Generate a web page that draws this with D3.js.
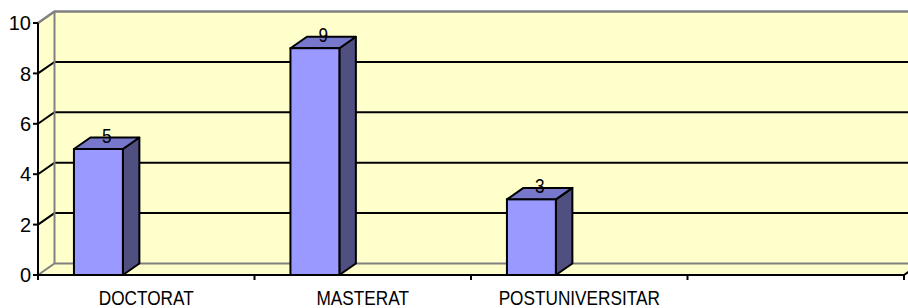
<!DOCTYPE html>
<html>
<head>
<meta charset="utf-8">
<script src="https://cdn.jsdelivr.net/npm/d3@7"></script>
<style>
  html, body { margin: 0; padding: 0; background: #ffffff; }
  svg { display: block; }
  text { font-family: "Liberation Sans", Arial, sans-serif; fill: #000; }
</style>
</head>
<body>
<svg id="chart" width="908" height="308"></svg>
<script>
// ---- data ----
const categories = ["DOCTORAT", "MASTERAT", "POSTUNIVERSITAR", ""];
const values = [5, 9, 3, null];
const yTicks = [0, 2, 4, 6, 8, 10];

(function () {
// ---- layout ----
const left = 38, right = 904, bottomY = 275, topY = 23;
const dx = 16.5, dy = -11.5;   // 3D depth offset

const svg = d3.select("#chart");

const x = d3.scaleBand().domain(categories).range([left, right]).padding(0);
const y = d3.scaleLinear().domain([0, 10]).range([bottomY, topY]);

const wallFill = "#FFFFCC", edge = "#808080";
const frontFill = "#9999FF", topFill = "#7777CC", sideFill = "#4F4F80";

const poly = pts => "M" + pts.map(p => p.join(",")).join("L") + "Z";

// side wall
svg.append("path")
  .attr("d", poly([[left, y(0)], [left + dx, y(0) + dy], [left + dx, y(10) + dy], [left, y(10)]]))
  .attr("fill", wallFill);
// back wall
svg.append("rect")
  .attr("x", left + dx).attr("y", y(10) + dy)
  .attr("width", right - left + 2).attr("height", y(0) - y(10))
  .attr("fill", wallFill);
// floor
svg.append("path")
  .attr("d", poly([[left, y(0)], [right, y(0)], [right + dx, y(0) + dy], [left + dx, y(0) + dy]]))
  .attr("fill", wallFill);

// gridlines
const grid = yTicks.filter(v => v > 0 && v < 10);
svg.append("g").selectAll("path").data(grid).join("path")
  .attr("d", v => `M${left},${y(v)}L${left + dx},${y(v) + dy}L${right + dx + 10},${y(v) + dy}`)
  .attr("fill", "none").attr("stroke", "#000").attr("stroke-width", 2);

// wall edges (gray)
svg.append("path")
  .attr("d", `M${left},${y(10)}L${left + dx},${y(10) + dy}L${right + dx + 10},${y(10) + dy}`)
  .attr("fill", "none").attr("stroke", edge).attr("stroke-width", 2.5);
svg.append("path")
  .attr("d", `M${left + dx},${y(10) + dy}L${left + dx},${y(0) + dy}`)
  .attr("fill", "none").attr("stroke", edge).attr("stroke-width", 2);
svg.append("path")
  .attr("d", `M${left},${y(0)}L${left + dx},${y(0) + dy}L${right + dx + 10},${y(0) + dy}`)
  .attr("fill", "none").attr("stroke", edge).attr("stroke-width", 2);

// bars
const barData = categories.map((c, i) => ({ c, v: values[i] })).filter(d => d.v != null);
const bw = x.bandwidth();
const bx0 = d => x(d.c) + bw * 0.166;
const bx1 = d => x(d.c) + bw * 0.166 + bw * 0.226;

const bars = svg.append("g").selectAll("g").data(barData).join("g");
bars.append("path") // side
  .attr("d", d => poly([[bx1(d), y(d.v)], [bx1(d) + dx, y(d.v) + dy], [bx1(d) + dx, y(0) + dy], [bx1(d), y(0)]]))
  .attr("fill", sideFill).attr("stroke", "#000").attr("stroke-width", 2).attr("stroke-linejoin", "round");
bars.append("path") // top
  .attr("d", d => poly([[bx0(d), y(d.v)], [bx1(d), y(d.v)], [bx1(d) + dx, y(d.v) + dy], [bx0(d) + dx, y(d.v) + dy]]))
  .attr("fill", topFill).attr("stroke", "#000").attr("stroke-width", 2).attr("stroke-linejoin", "round");
bars.append("rect") // front
  .attr("x", bx0).attr("y", d => y(d.v))
  .attr("width", d => bx1(d) - bx0(d)).attr("height", d => y(0) - y(d.v))
  .attr("fill", frontFill).attr("stroke", "#000").attr("stroke-width", 2);

// data labels
bars.append("g")
  .attr("transform", d => `translate(${(bx0(d) + bx1(d) + dx) / 2},${y(d.v) - 6}) scale(0.82,1)`)
  .append("text")
  .attr("text-anchor", "middle").attr("font-size", 21)
  .text(d => d.v);

// y axis
svg.append("path").attr("d", `M${left},${y(10)}L${left},${y(0)}`)
  .attr("stroke", "#000").attr("stroke-width", 2);
svg.append("g").selectAll("path").data(yTicks).join("path")
  .attr("d", v => `M${left - 5},${y(v)}L${left},${y(v)}`)
  .attr("stroke", "#000").attr("stroke-width", 2);
svg.append("g").selectAll("text").data(yTicks).join("text")
  .attr("x", left - 7).attr("y", v => y(v)).attr("dy", "0.36em")
  .attr("text-anchor", "end").attr("font-size", 20)
  .text(v => v);

// x axis
svg.append("path").attr("d", `M${left},${y(0)}L${right},${y(0)}`)
  .attr("stroke", "#000").attr("stroke-width", 2);
svg.append("path").attr("d", `M${right},${y(0)}L${right + dx},${y(0) + dy}`)
  .attr("stroke", "#000").attr("stroke-width", 2);
const bounds = categories.map(c => x(c)).concat([right]);
svg.append("g").selectAll("path").data(bounds).join("path")
  .attr("d", b => `M${b},${y(0)}L${b},${y(0) + 5}`)
  .attr("stroke", "#000").attr("stroke-width", 2);
svg.append("g").selectAll("g").data(categories).join("g")
  .attr("transform", c => `translate(${x(c) + bw / 2},305) scale(0.82,1)`)
  .append("text")
  .attr("text-anchor", "middle").attr("font-size", 21)
  .text(c => c);
})();
</script>
</body>
</html>
